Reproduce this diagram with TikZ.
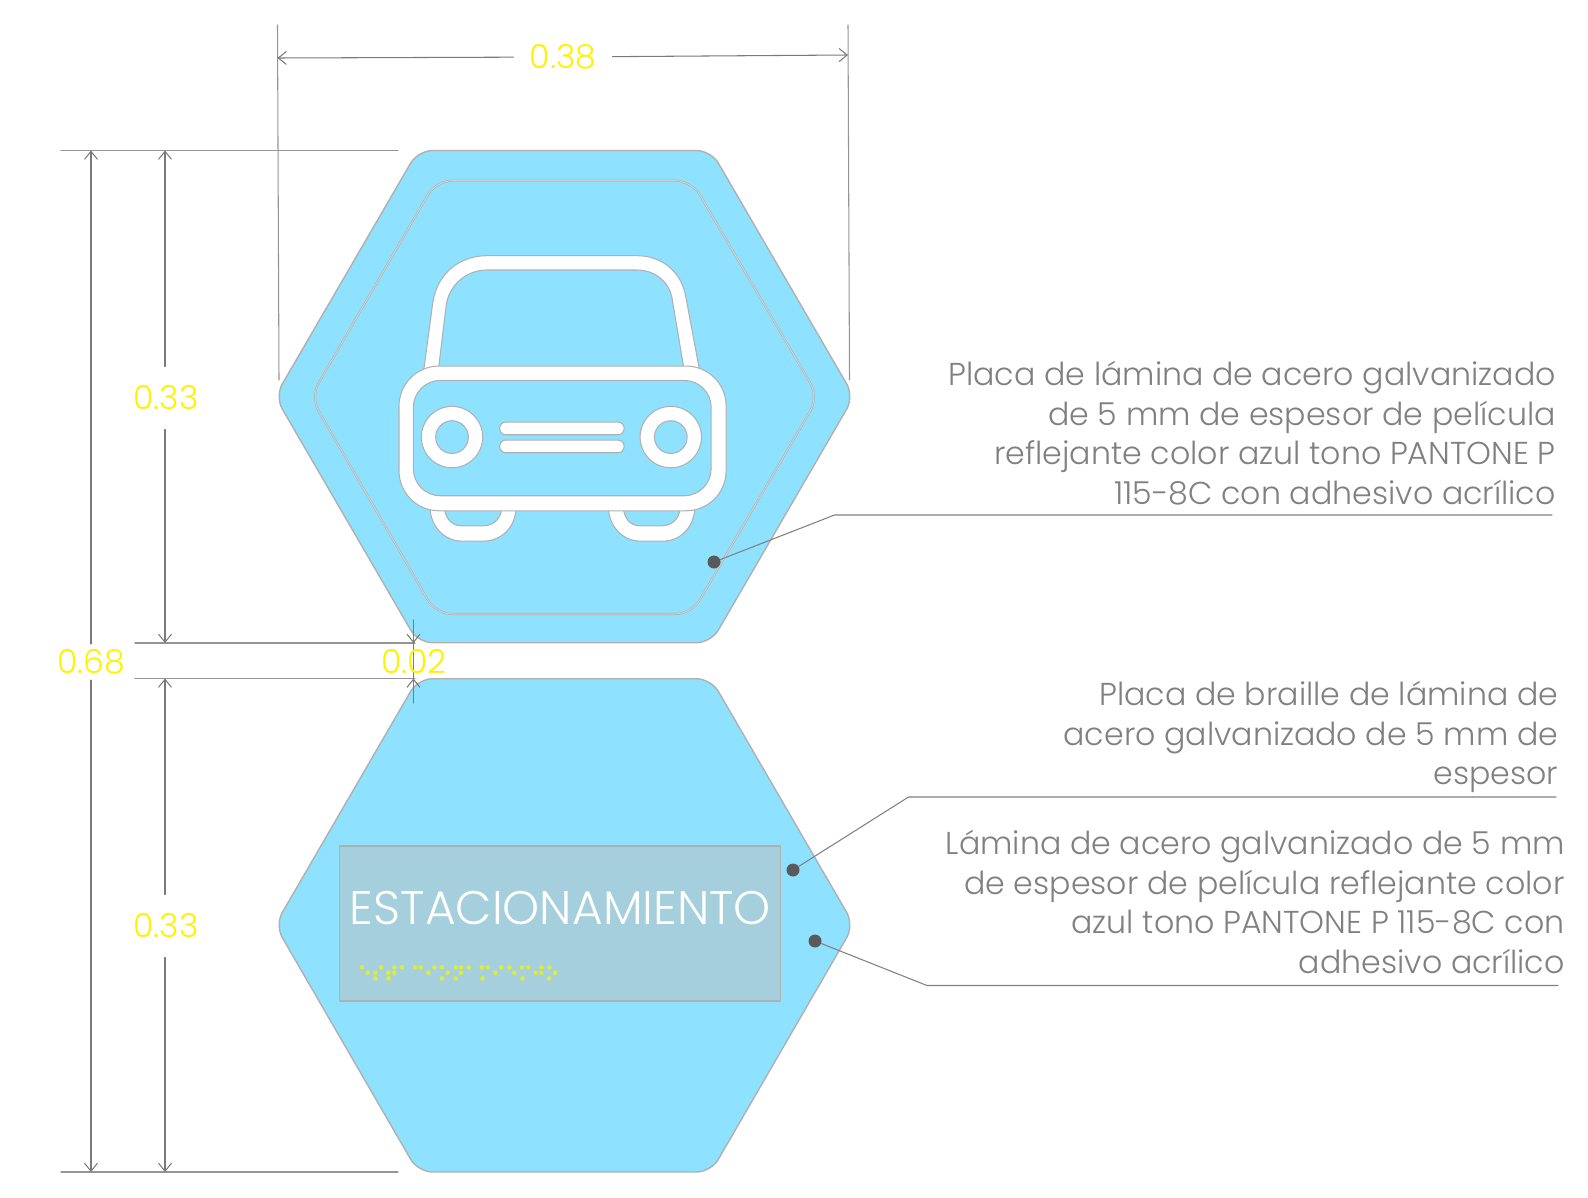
\documentclass[tikz,border=0pt]{standalone}
\usepackage{fontspec}
\setmainfont{Poppins Light}
\usetikzlibrary{arrows.meta}
\definecolor{platecol}{HTML}{8EE2FF}
\definecolor{edgecol}{HTML}{B0B0B0}
\definecolor{vinylcol}{HTML}{A5CFDD}
\definecolor{dimcol}{HTML}{7A7A7A}
\definecolor{notecol}{HTML}{808080}
\definecolor{dotcol}{HTML}{5A5A5A}
\definecolor{braillecol}{HTML}{DDEB3C}
\begin{document}
\begin{tikzpicture}[line cap=round,line join=round,x=0.2mm,y=-0.2mm,>={Straight Barb[length=1.6mm,width=2.6mm]},
    plate/.style={fill=platecol, draw=edgecol, line width=0.8pt, rounded corners=2.9mm},
    inplate/.style={draw=edgecol, double=edgecol!40, double distance=0.35pt, line width=0.4pt, rounded corners=3.2mm},
    carwhite/.style={fill=white, draw=edgecol, line width=0.6pt},
    carblue/.style={fill=platecol, draw=edgecol, line width=0.6pt},
    dimline/.style={draw=dimcol, line width=0.6pt},
    extline/.style={draw=dimcol!80, line width=0.6pt},
    dimlabel/.style={text=yellow, font=\fontsize{18.8}{18.8}\selectfont, inner sep=3pt},
    note/.style={text=notecol, font=\fontsize{18}{22.5}\selectfont, align=right, anchor=east, inner sep=0pt},
    leader/.style={draw=notecol, line width=0.6pt},
    leaddot/.style={circle, fill=dotcol, minimum size=2.6mm, inner sep=0pt},
    brl/.style={fill=braillecol, draw=none}]
    \useasboundingbox (0,0) rectangle (1588,1198);

    % plates
    \draw[plate] (418,150.5) -- (711,150.5) -- (854,396.5) -- (711,642.7) -- (418,642.7) -- (275,396.5) -- cycle;
    \draw[inplate] (436,180.7) -- (691.5,180.7) -- (818.5,397) -- (691.5,614) -- (436,614) -- (310.5,397) -- cycle;
    \draw[plate] (418,678.7) -- (711,678.7) -- (854,925) -- (711,1172) -- (418,1172) -- (275,925) -- cycle;

    % car
    \begin{scope}[shift={(380,240)},x=0.0667mm,y=-0.0667mm]
        \draw[carwhite] (130,400) -- (158,190) .. controls (170,100) and (240,47) .. (320,47) -- (770,47) .. controls (850,47) and (905,100) .. (917,170) -- (960,400) -- cycle;
        \draw[carblue] (175,390) -- (198,200) .. controls (205,135) and (260,90) .. (320,90) -- (770,90) .. controls (825,90) and (865,125) .. (875,170) -- (912,390) -- cycle;
        \draw[carwhite] (150,800) .. controls (150,860) and (195,903) .. (245,903) -- (310,903) .. controls (365,903) and (408,860) .. (408,800) -- cycle;
        \draw[carblue] (193,800) .. controls (195,835) and (215,857) .. (245,857) -- (310,857) .. controls (340,857) and (365,835) .. (365,800) -- cycle;
        \draw[carwhite] (685,800) .. controls (685,860) and (730,903) .. (780,903) -- (850,903) .. controls (900,903) and (944,860) .. (944,800) -- cycle;
        \draw[carblue] (729,800) .. controls (732,835) and (750,857) .. (780,857) -- (845,857) .. controls (875,857) and (900,835) .. (900,800) -- cycle;
        \draw[carwhite, rounded corners=8mm] (57,378) rectangle (1038,812);
        \draw[carblue, rounded corners=5.4mm] (100,421) rectangle (993,767);
        \draw[carwhite] (216,591) circle (92);
        \draw[carblue] (216,591) circle (49);
        \draw[carwhite] (872,591) circle (92);
        \draw[carblue] (872,591) circle (49);
        \draw[carwhite, rounded corners=1.2mm] (359,546) rectangle (732,584);
        \draw[carwhite, rounded corners=1.2mm] (359,600) rectangle (732,638);
    \end{scope}

    % vinyl
    \draw[fill=vinylcol, draw=edgecol, line width=0.7pt] (339.5,846) rectangle (780.5,1001);
    \node[text=white, font=\fontsize{26.8}{26.8}\selectfont, inner sep=0pt] (sign) at (560.5,908) {ESTACIONAMIENTO};
    \begin{scope}[shift={(330,840)},x=0.0667mm,y=-0.0667mm]
        \foreach \i in {96,153,193,216,255,272,313,336,377,393,416,455,473,513,538,576,595,634,658}
            \fill[brl] (\i,382) circle (7);
        \foreach \i in {113,136,175,193,295,353,393,496,553,617,634,675}
            \fill[brl] (\i,398) circle (7);
        \foreach \i in {136,175,336,377,457,577,657}
            \fill[brl] (\i,415) circle (7);
    \end{scope}

    % extension lines
    \coordinate (wa) at (277.5,25);
    \coordinate (wb) at (279,380);
    \coordinate (wc) at (848,25);
    \coordinate (wd) at (849.5,380);
    \draw[extline] (wa) -- (wb);
    \draw[extline] (wc) -- (wd);
    \coordinate (ta) at (61,150.5);
    \coordinate (tb) at (398,150.5);
    \coordinate (ua) at (135,643);
    \coordinate (ub) at (415,643);
    \coordinate (va) at (135,678.5);
    \coordinate (vb) at (415,678.5);
    \coordinate (sa) at (61,1172);
    \coordinate (sb) at (398,1172);
    \draw[extline] (ta) -- (tb);
    \draw[extline] (ua) -- (ub);
    \draw[extline] (va) -- (vb);
    \draw[extline] (sa) -- (sb);

    % dimensions
    \coordinate (da) at (277.5,58);
    \coordinate (db) at (848,55);
    \node[dimlabel, inner xsep=3.2mm] (wid) at (563,57) {0.38};
    \draw[dimline,->] (wid) -- (da);
    \draw[dimline,->] (wid) -- (db);

    \coordinate (ha) at (91,150.5);
    \coordinate (hb) at (91,1172);
    \node[dimlabel] (tot) at (91,662) {0.68};
    \draw[dimline,->] (tot) -- (ha);
    \draw[dimline,->] (tot) -- (hb);

    \coordinate (qa) at (165,150.5);
    \coordinate (qb) at (165,643);
    \node[dimlabel, inner ysep=3.8mm] (upp) at (166,398) {0.33};
    \draw[dimline,->] (upp.north -| qa) -- (qa);
    \draw[dimline,->] (upp.south -| qb) -- (qb);

    \coordinate (ra) at (165,678.5);
    \coordinate (rb) at (165,1172);
    \node[dimlabel, inner ysep=3.8mm] (low) at (166,926) {0.33};
    \draw[dimline,->] (low.north -| ra) -- (ra);
    \draw[dimline,->] (low.south -| rb) -- (rb);

    \coordinate (ga) at (413.5,620);
    \coordinate (gb) at (413.5,643);
    \coordinate (gc) at (413.5,703);
    \coordinate (gd) at (413.5,678.5);
    \draw[dimline,->] (ga) -- (gb);
    \draw[dimline,->] (gc) -- (gd);
    \draw[dimline] (gb) -- (gd);
    \node[dimlabel] (gap) at (414,662) {0.02};

    % notes
    \node[note] (noa) at (1556,433) {Placa de lámina de acero galvanizado\\de 5 mm de espesor de película\\reflejante color azul tono PANTONE P\\115-8C con adhesivo acrílico};
    \node[note] (nob) at (1558.5,737) {Placa de braille de lámina de\\acero galvanizado de 5 mm de\\espesor};
    \node[note] (noc) at (1565,902) {Lámina de acero galvanizado de 5 mm\\de espesor de película reflejante color\\azul tono PANTONE P 115-8C con\\adhesivo acrílico};

    % leaders
    \node[leaddot] (pa) at (714,562) {};
    \node[leaddot] (pb) at (793,870) {};
    \node[leaddot] (pc) at (815,941) {};
    \coordinate (ea) at (834.5,515);
    \coordinate (eb) at (1552,515);
    \coordinate (fa) at (908.5,797);
    \coordinate (fb) at (1556,797);
    \coordinate (ka) at (927,985.5);
    \coordinate (kb) at (1558,985.5);
    \draw[leader] (pa) -- (ea) -- (eb);
    \draw[leader] (pb) -- (fa) -- (fb);
    \draw[leader] (pc) -- (ka) -- (kb);
\end{tikzpicture}
\end{document}
